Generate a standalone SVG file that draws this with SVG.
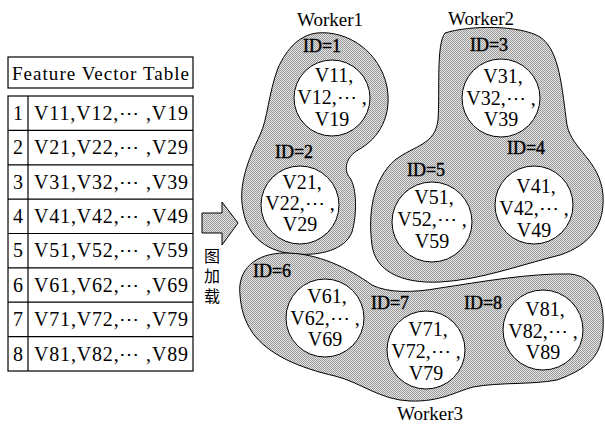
<svg xmlns="http://www.w3.org/2000/svg" width="605" height="432" viewBox="0 0 605 432" font-family="'Liberation Serif', 'DejaVu Serif', serif">
<style>
text{font-family:'Liberation Serif','DejaVu Serif',serif;fill:#000}
.cell{font-size:20px}
.lbl{font-size:19px;text-anchor:middle}
.id{font-size:18px;text-anchor:middle;stroke:#000;stroke-width:0.4}
.ct{font-size:20px;text-anchor:middle}
.blob{fill:url(#dots);stroke:#000;stroke-width:1}
.node{fill:#fff;stroke:#000;stroke-width:1}
.tb{fill:none;stroke:#000;stroke-width:1.2}
.cjk{font-family:'Noto Sans CJK SC',sans-serif;font-size:16px}
</style>
<defs>
<pattern id="dots" width="2" height="2" patternUnits="userSpaceOnUse">
<rect width="2" height="2" fill="#e4e4e4"/>
<rect width="1" height="1" fill="#9a9a9a"/>
<rect x="1" y="1" width="1" height="1" fill="#9a9a9a"/>
</pattern>
</defs>
<rect width="605" height="432" fill="#fff"/>

<g id="table">
<rect class="tb" x="8" y="57" width="185" height="31"/>
<text x="12" y="80" font-size="19" textLength="177" lengthAdjust="spacing">Feature Vector Table</text>
<rect class="tb" x="8" y="96" width="185" height="275"/>
<line class="tb" x1="28" y1="96" x2="28" y2="371"/>
<g class="tb">
<line x1="8" y1="130.4" x2="193" y2="130.4"/>
<line x1="8" y1="164.8" x2="193" y2="164.8"/>
<line x1="8" y1="199.1" x2="193" y2="199.1"/>
<line x1="8" y1="233.5" x2="193" y2="233.5"/>
<line x1="8" y1="267.9" x2="193" y2="267.9"/>
<line x1="8" y1="302.2" x2="193" y2="302.2"/>
<line x1="8" y1="336.6" x2="193" y2="336.6"/>
</g>
<g class="cell">
<text x="13" y="120">1</text><text x="34" y="120" textLength="154" lengthAdjust="spacing">V11,V12,⋯ ,V19</text>
<text x="13" y="154">2</text><text x="34" y="154" textLength="154" lengthAdjust="spacing">V21,V22,⋯ ,V29</text>
<text x="13" y="189">3</text><text x="34" y="189" textLength="154" lengthAdjust="spacing">V31,V32,⋯ ,V39</text>
<text x="13" y="223">4</text><text x="34" y="223" textLength="154" lengthAdjust="spacing">V41,V42,⋯ ,V49</text>
<text x="13" y="257">5</text><text x="34" y="257" textLength="154" lengthAdjust="spacing">V51,V52,⋯ ,V59</text>
<text x="13" y="292">6</text><text x="34" y="292" textLength="154" lengthAdjust="spacing">V61,V62,⋯ ,V69</text>
<text x="13" y="326">7</text><text x="34" y="326" textLength="154" lengthAdjust="spacing">V71,V72,⋯ ,V79</text>
<text x="13" y="361">8</text><text x="34" y="361" textLength="154" lengthAdjust="spacing">V81,V82,⋯ ,V89</text>
</g>
</g>

<g id="connectors">
<polygon points="202,213 222,213 222,202 238,223 222,245 222,233 202,233" fill="url(#dots)" stroke="#000" stroke-width="1"/>
<text class="cjk" x="212" y="248" style="writing-mode:vertical-rl;letter-spacing:4px">图加载</text>
</g>

<g id="worker1">
<path class="blob" d="M317,33 C348,30 380,52 387,87 C392,115 380,138 358,150 C346,157 343,170 350,178 C357,188 357,215 352,232 C345,250 320,256 295,254 C268,252 248,238 243,210 C238,185 248,160 260,135 C268,118 268,95 278,68 C287,48 300,35 317,33 Z"/>
<text class="lbl" x="330" y="26">Worker1</text>
</g>
<g id="worker2">
<path class="blob" d="M445,33 C470,25 520,25 540,37 C560,50 562,90 567,125 C572,150 600,160 603,195 C605,225 590,245 560,255 C520,265 480,280 440,282 C400,284 375,270 372,245 C368,215 372,180 395,160 C415,145 435,145 438,120 C440,90 436,45 445,33 Z"/>
<text class="lbl" x="481" y="25">Worker2</text>
</g>
<g id="worker3">
<path class="blob" d="M240,295 C237,270 255,253 285,253 C318,253 348,268 372,285 C388,293 412,293 440,288 C480,282 530,273 570,274 C595,276 605,300 603,330 C601,355 590,368 557,380 C530,385 500,382 473,387 C455,392 440,402 410,401 C380,400 360,382 335,376 C300,368 268,355 252,332 C244,320 241,308 240,295 Z"/>
<text class="lbl" x="430" y="420">Worker3</text>
</g>

<g id="node1">
<text class="id" x="322" y="52">ID=1</text>
<circle class="node" cx="332" cy="98" r="38"/>
<text class="ct" x="334" y="82">V11,</text><text class="ct" x="332" y="104">V12,⋯ ,</text><text class="ct" x="332" y="126">V19</text>
</g>
<g id="node2">
<text class="id" x="294" y="158">ID=2</text>
<circle class="node" cx="300" cy="205" r="39"/>
<text class="ct" x="302" y="189">V21,</text><text class="ct" x="300" y="210">V22,⋯ ,</text><text class="ct" x="300" y="231">V29</text>
</g>
<g id="node3">
<text class="id" x="489" y="51">ID=3</text>
<circle class="node" cx="501" cy="98" r="39"/>
<text class="ct" x="503" y="83">V31,</text><text class="ct" x="501" y="105">V32,⋯ ,</text><text class="ct" x="501" y="126">V39</text>
</g>
<g id="node4">
<text class="id" x="526" y="154">ID=4</text>
<circle class="node" cx="534" cy="205" r="39"/>
<text class="ct" x="536" y="193">V41,</text><text class="ct" x="534" y="215">V42,⋯ ,</text><text class="ct" x="534" y="237">V49</text>
</g>
<g id="node5">
<text class="id" x="426" y="176">ID=5</text>
<circle class="node" cx="432" cy="222" r="40"/>
<text class="ct" x="434" y="204">V51,</text><text class="ct" x="432" y="226">V52,⋯ ,</text><text class="ct" x="432" y="248">V59</text>
</g>
<g id="node6">
<text class="id" x="272" y="277">ID=6</text>
<circle class="node" cx="325" cy="318" r="39"/>
<text class="ct" x="327" y="303">V61,</text><text class="ct" x="325" y="325">V62,⋯ ,</text><text class="ct" x="325" y="346">V69</text>
</g>
<g id="node7">
<text class="id" x="390" y="309">ID=7</text>
<circle class="node" cx="426" cy="350" r="39"/>
<text class="ct" x="428" y="336">V71,</text><text class="ct" x="426" y="358">V72,⋯ ,</text><text class="ct" x="426" y="380">V79</text>
</g>
<g id="node8">
<text class="id" x="483" y="309">ID=8</text>
<circle class="node" cx="543" cy="330" r="40"/>
<text class="ct" x="545" y="316">V81,</text><text class="ct" x="543" y="338">V82,⋯ ,</text><text class="ct" x="543" y="359">V89</text>
</g>
</svg>
